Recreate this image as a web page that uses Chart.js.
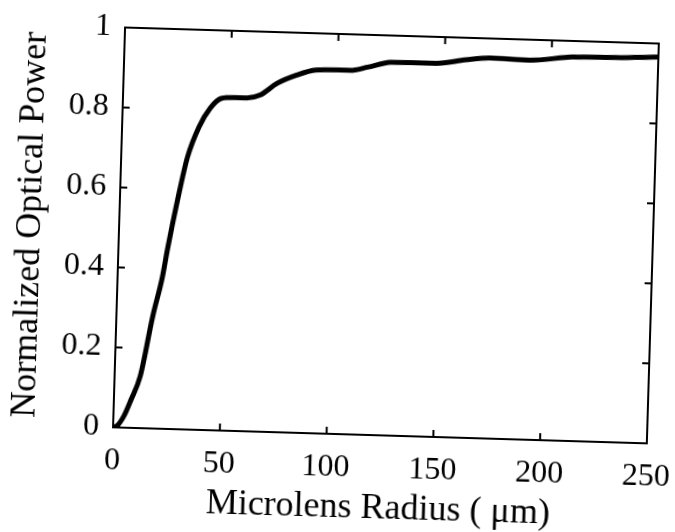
<!DOCTYPE html>
<html>
<head>
<meta charset="utf-8">
<script src="https://cdn.jsdelivr.net/npm/chart.js@4/dist/chart.umd.min.js"></script>
<style>
  html, body { margin: 0; padding: 0; background: #fff; overflow: hidden; }
  /* the scanned figure is tilted a little clockwise */
  #wrap { width: 675px; height: 532px; transform: rotate(1.72deg); transform-origin: 50% 50%; background: #fff; }
</style>
</head>
<body>
<div id="wrap"><canvas id="powerChart" width="675" height="532"></canvas></div>
<script>
// microlens radius (um) and normalized optical power
const radius = [0, 2, 5, 8, 12, 17, 21, 23, 27, 31, 36, 41, 46, 52, 58, 64, 72, 81, 90, 100, 106, 114, 125, 135, 146, 160, 171, 190, 210, 230, 250];
const power = [0, 0.005, 0.03, 0.07, 0.13, 0.28, 0.38, 0.45, 0.573, 0.68, 0.757, 0.805, 0.83, 0.833, 0.833, 0.841, 0.872, 0.894, 0.908, 0.91, 0.91, 0.919, 0.933, 0.934, 0.934, 0.945, 0.951, 0.949, 0.96, 0.962, 0.966];

const xTicks = [0, 50, 100, 150, 200, 250];
const yTicks = [0, 0.2, 0.4, 0.6, 0.8, 1];
const yTickLabels = ["0", "0.2", "0.4", "0.6", "0.8", "1"];

const serif = "'Liberation Serif', 'Times New Roman', serif";

// box around the plot with small inward ticks on all four sides
const framePlugin = {
  id: "frame",
  afterDraw(chart) {
    const { ctx, chartArea: a, scales } = chart;
    const len = 7;
    ctx.save();
    ctx.strokeStyle = "#000";
    ctx.lineWidth = 2;
    ctx.strokeRect(a.left, a.top, a.right - a.left, a.bottom - a.top);
    ctx.beginPath();
    xTicks.forEach(v => {
      const px = scales.x.getPixelForValue(v);
      ctx.moveTo(px, a.bottom); ctx.lineTo(px, a.bottom - len);
      ctx.moveTo(px, a.top); ctx.lineTo(px, a.top + len);
    });
    yTicks.forEach(v => {
      const py = scales.y.getPixelForValue(v);
      ctx.moveTo(a.left, py); ctx.lineTo(a.left + len, py);
      ctx.moveTo(a.right, py); ctx.lineTo(a.right - len, py);
    });
    ctx.stroke();
    ctx.restore();
  }
};

new Chart(document.getElementById("powerChart"), {
  type: "line",
  data: {
    datasets: [{
      data: radius.map((r, i) => ({ x: r, y: power[i] })),
      borderColor: "#000",
      borderWidth: 5,
      pointRadius: 0,
      cubicInterpolationMode: "monotone",
      fill: false
    }]
  },
  options: {
    responsive: false,
    animation: false,
    layout: { padding: { top: 34, right: 23, left: 0, bottom: 0 } },
    plugins: { legend: { display: false }, tooltip: { enabled: false } },
    scales: {
      x: {
        type: "linear",
        min: 0,
        max: 250,
        afterFit: s => { s.height = 98; s.paddingLeft = 0; s.paddingRight = 0; },
        afterBuildTicks: s => { s.ticks = xTicks.map(v => ({ value: v })); },
        grid: { display: false, drawTicks: false },
        border: { display: false },
        ticks: {
          color: "#000",
          padding: 14,
          font: { family: serif, size: 32 },
          maxRotation: 0
        },
        title: {
          display: true,
          text: "Microlens Radius ( μm)",
          color: "#000",
          font: { family: serif, size: 36 },
          padding: { top: 0, bottom: 3 }
        }
      },
      y: {
        type: "linear",
        min: 0,
        max: 1,
        afterFit: s => { s.width = 118; s.paddingTop = 0; s.paddingBottom = 0; },
        afterBuildTicks: s => { s.ticks = yTicks.map(v => ({ value: v })); },
        grid: { display: false, drawTicks: false },
        border: { display: false },
        ticks: {
          color: "#000",
          padding: 14,
          font: { family: serif, size: 32 },
          callback: (v) => yTickLabels[yTicks.indexOf(v)]
        },
        title: {
          display: true,
          text: "Normalized Optical Power",
          color: "#000",
          font: { family: serif, size: 36 },
          padding: { top: 8, bottom: 0 }
        }
      }
    }
  },
  plugins: [framePlugin]
});
</script>
</body>
</html>
